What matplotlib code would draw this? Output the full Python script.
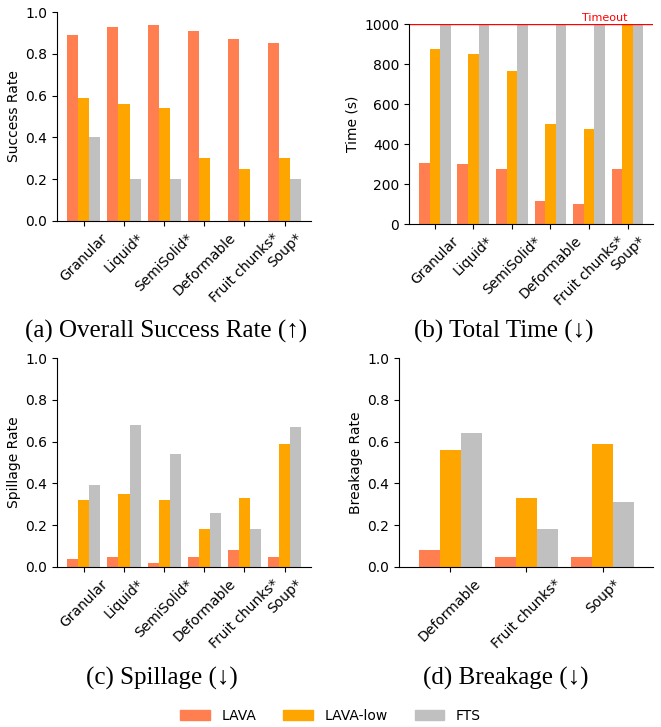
import numpy as np
import matplotlib
matplotlib.use("Agg")
import matplotlib.pyplot as plt
from matplotlib.patches import Patch

methods = ["LAVA", "LAVA-low", "FTS"]
colors = ["#FF7F50", "#FFA500", "#C0C0C0"]

categories = ["Granular", "Liquid*", "SemiSolid*", "Deformable", "Fruit chunks*", "Soup*"]
break_categories = ["Deformable", "Fruit chunks*", "Soup*"]

success_lava = [0.89, 0.93, 0.94, 0.91, 0.87, 0.85]
success_low = [0.59, 0.56, 0.54, 0.30, 0.25, 0.30]
success_fts = [0.40, 0.20, 0.20, 0.0, 0.0, 0.20]

time_lava = [306, 301, 276, 116, 101, 276]
time_low = [875, 850, 765, 501, 476, 1000]
time_fts = [1000, 1000, 1000, 1000, 1000, 1000]
timeout = 1000

spill_lava = [0.04, 0.05, 0.02, 0.05, 0.08, 0.05]
spill_low = [0.32, 0.35, 0.32, 0.18, 0.33, 0.59]
spill_fts = [0.39, 0.68, 0.54, 0.26, 0.18, 0.67]

break_lava = [0.08, 0.05, 0.05]
break_low = [0.56, 0.33, 0.59]
break_fts = [0.64, 0.18, 0.31]

captions = ["(a) Overall Success Rate (\u2191)", "(b) Total Time (\u2193)",
            "(c) Spillage (\u2193)", "(d) Breakage (\u2193)"]

W, H = 661, 727
fig = plt.figure(figsize=(W / 100, H / 100), dpi=100)


def box(l, t, r, b):
    # pixel box -> figure fraction
    return [l / W, 1 - b / H, (r - l) / W, (b - t) / H]


def bars(ax, cats, series, ylabel, ylim, yticks):
    x = np.arange(len(cats))
    w = 0.275
    for i, (vals, c) in enumerate(zip(series, colors)):
        ax.bar(x + (i - 1) * w, vals, w, color=c)
    ax.set_xticks(x)
    ax.set_xticklabels(cats, rotation=45, ha="center")
    ax.set_xlim(-0.67, len(cats) - 0.34)
    ax.set_ylim(*ylim)
    ax.set_yticks(yticks)
    ax.set_ylabel(ylabel, fontsize=10, labelpad=3)
    ax.tick_params(labelsize=10)
    ax.spines["top"].set_visible(False)
    ax.spines["right"].set_visible(False)


rate_ticks = [0, 0.2, 0.4, 0.6, 0.8, 1.0]

ax_a = fig.add_axes(box(57, 12, 311, 221))
bars(ax_a, categories, [success_lava, success_low, success_fts], "Success Rate", (0, 1), rate_ticks)

ax_b = fig.add_axes(box(409, 24, 653, 224))
bars(ax_b, categories, [time_lava, time_low, time_fts], "Time (s)", (0, 1000), range(0, 1001, 200))
ax_b.axhline(timeout, color="red", lw=1)
ax_b.text(5.0, timeout + 5, "Timeout", color="red", fontsize=8, ha="right", va="bottom")

ax_c = fig.add_axes(box(57, 358, 311, 567))
bars(ax_c, categories, [spill_lava, spill_low, spill_fts], "Spillage Rate", (0, 1), rate_ticks)

ax_d = fig.add_axes(box(399, 358, 653, 567))
bars(ax_d, break_categories, [break_lava, break_low, break_fts], "Breakage Rate", (0, 1), rate_ticks)

cap_pos = [(166, 331), (504, 331), (162, 678), (506, 678)]
for (cx, cy), txt in zip(cap_pos, captions):
    fig.text(cx / W, 1 - cy / H, txt, ha="center", va="center",
             fontsize=18, family=["Liberation Serif", "DejaVu Serif"])

handles = [Patch(color=c, label=m) for c, m in zip(colors, methods)]
fig.legend(handles=handles, loc="center", bbox_to_anchor=(0.5, 1 - 716 / H), ncol=3,
           frameon=False, fontsize=10, handlelength=2.15, handleheight=0.8,
           handletextpad=0.8, columnspacing=1.95)

fig.savefig("out.png", dpi=100)
